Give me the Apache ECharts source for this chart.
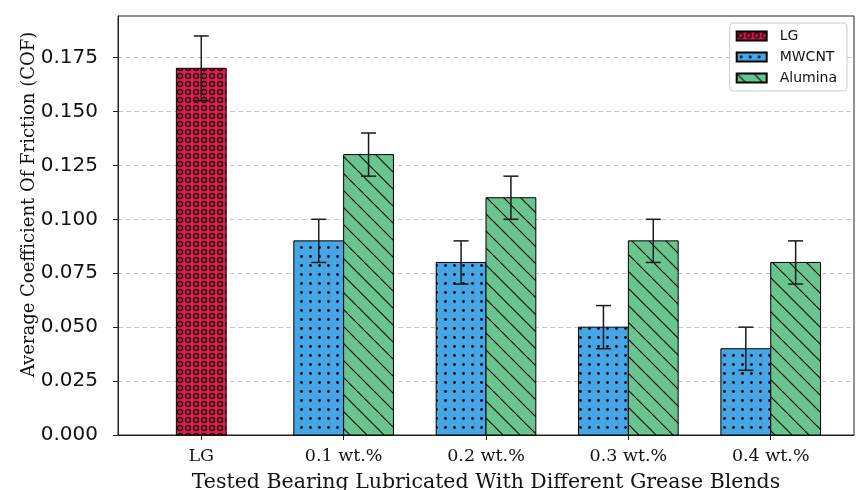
<!DOCTYPE html>
<html><head><meta charset="utf-8">
<script src="https://cdn.jsdelivr.net/npm/echarts@6/dist/echarts.min.js"></script>
<style>html,body{margin:0;padding:0;background:#fff}#c{width:867px;height:490px}</style>
</head><body><div id="c"></div>
<script>
// ---- data ----
const categories = ['LG', '0.1 wt.%', '0.2 wt.%', '0.3 wt.%', '0.4 wt.%'];
const lgValues = [0.17, null, null, null, null];
const lgErrors = [0.015, null, null, null, null];
const mwcntValues = [null, 0.09, 0.08, 0.05, 0.04];
const mwcntErrors = [null, 0.01, 0.01, 0.01, 0.01];
const aluminaValues = [null, 0.13, 0.11, 0.09, 0.08];
const aluminaErrors = [null, 0.01, 0.01, 0.01, 0.01];
const yTicks = [0, 0.025, 0.05, 0.075, 0.1, 0.125, 0.15, 0.175];
const xTicks = [0, 1, 2, 3, 4];

// ---- styling helpers ----
const BW = 0.35;
function makeCanvas(w, h, bg) {
  const c = document.createElement('canvas');
  c.width = w; c.height = h;
  const ctx = c.getContext('2d');
  ctx.fillStyle = bg; ctx.fillRect(0, 0, w, h);
  return [c, ctx];
}
function ringPattern() {
  const [c, ctx] = makeCanvas(8, 8, '#E0194F');
  ctx.strokeStyle = '#1a0a0a'; ctx.lineWidth = 1.4;
  ctx.beginPath(); ctx.arc(4, 4, 2.5, 0, Math.PI * 2); ctx.stroke();
  return { image: c, repeat: 'repeat' };
}
function dotPattern() {
  const [c, ctx] = makeCanvas(9, 9, '#45A6E3');
  ctx.fillStyle = '#0a0a14';
  ctx.beginPath(); ctx.arc(4.5, 4.5, 1.4, 0, Math.PI * 2); ctx.fill();
  return { image: c, repeat: 'repeat' };
}
function hatchPattern() {
  const s = 17;
  const [c, ctx] = makeCanvas(s, s, '#69C48D');
  ctx.strokeStyle = '#0a140a'; ctx.lineWidth = 1.2;
  ctx.beginPath();
  for (const o of [-s, 0, s]) { ctx.moveTo(o, 0); ctx.lineTo(o + s, s); }
  ctx.stroke();
  return { image: c, repeat: 'repeat' };
}

function barSeries(name, values, errors, offset, pattern) {
  const data = [];
  values.forEach((v, i) => { if (v != null) data.push([i, v, errors[i]]); });
  return {
    type: 'custom', name: name, data: data,
    encode: { x: 0, y: 1 },
    itemStyle: { color: pattern, borderColor: '#000', borderWidth: 1 },
    renderItem: function (params, api) {
      const x = api.value(0), v = api.value(1), e = api.value(2);
      const tl = api.coord([x + offset - BW / 2, v]);
      const br = api.coord([x + offset + BW / 2, 0]);
      const cx = api.coord([x + offset, v])[0];
      const lo = api.coord([x + offset, v - e])[1];
      const hi = api.coord([x + offset, v + e])[1];
      const cap = 7.5;
      const ls = { stroke: '#1a1a1a', lineWidth: 1.5 };
      return {
        type: 'group', children: [
          { type: 'rect', shape: { x: tl[0], y: tl[1], width: br[0] - tl[0], height: br[1] - tl[1] },
            style: { fill: pattern, stroke: '#000', lineWidth: 1 } },
          { type: 'line', shape: { x1: cx, y1: lo, x2: cx, y2: hi }, style: ls },
          { type: 'line', shape: { x1: cx - cap, y1: hi, x2: cx + cap, y2: hi }, style: ls },
          { type: 'line', shape: { x1: cx - cap, y1: lo, x2: cx + cap, y2: lo }, style: ls }
        ]
      };
    }
  };
}

const chart = echarts.init(document.getElementById('c'), null, { renderer: 'canvas' });
chart.setOption({
  backgroundColor: '#fff',
  animation: false,
  grid: { left: 118, right: 13, top: 16, bottom: 55, containLabel: false, outerBoundsMode: 'none',
    show: true, borderColor: '#222', borderWidth: 1, backgroundColor: 'transparent' },
  legend: {
    orient: 'vertical', right: 20, top: 23,
    icon: 'rect',
    itemWidth: 30, itemHeight: 9, itemGap: 7,
    padding: [6, 10, 6, 6],
    backgroundColor: '#fff', borderColor: '#cccccc', borderWidth: 1, borderRadius: 4,
    textStyle: { fontFamily: 'DejaVu Sans', fontSize: 14, color: '#111', padding: [0, 0, 0, 8] },
    data: ['LG', 'MWCNT', 'Alumina']
  },
  xAxis: {
    type: 'value', min: -0.585, max: 4.585,
    name: 'Tested Bearing Lubricated With Different Grease Blends',
    nameLocation: 'middle', nameGap: 37, nameMoveOverlap: false,
    nameTextStyle: { fontFamily: 'DejaVu Serif', fontSize: 20.5, color: '#111' },
    axisLine: { show: true, onZero: false, lineStyle: { color: '#222', width: 1 } },
    axisTick: { show: true, customValues: xTicks, length: 5, lineStyle: { color: '#222' } },
    axisLabel: { customValues: xTicks, margin: 12, fontFamily: 'DejaVu Serif', fontSize: 17.5, color: '#111',
      formatter: function (v) { return categories[Math.round(v)]; } },
    splitLine: { show: false }
  },
  yAxis: {
    type: 'value', min: 0, max: 0.19425,
    name: 'Average Coefficient Of Friction (COF)',
    nameLocation: 'middle', nameGap: 80, nameRotate: 90, nameMoveOverlap: false,
    nameTextStyle: { fontFamily: 'DejaVu Serif', fontSize: 18, color: '#111', padding: [0, 0, 0, 42] },
    axisLine: { show: true, onZero: false, lineStyle: { color: '#222', width: 1 } },
    axisTick: { show: true, customValues: yTicks, length: 5, lineStyle: { color: '#222' } },
    axisLabel: { customValues: yTicks, margin: 20, fontFamily: 'DejaVu Sans', fontSize: 20, color: '#111',
      formatter: function (v) { return v.toFixed(3); } },
    splitLine: { show: true, lineStyle: { color: '#c8c8c8', type: [5, 3], width: 1 } }
  },
  series: [
    barSeries('LG', lgValues, lgErrors, 0, ringPattern()),
    barSeries('MWCNT', mwcntValues, mwcntErrors, -BW / 2, dotPattern()),
    barSeries('Alumina', aluminaValues, aluminaErrors, BW / 2, hatchPattern())
  ]
});
</script></body></html>
